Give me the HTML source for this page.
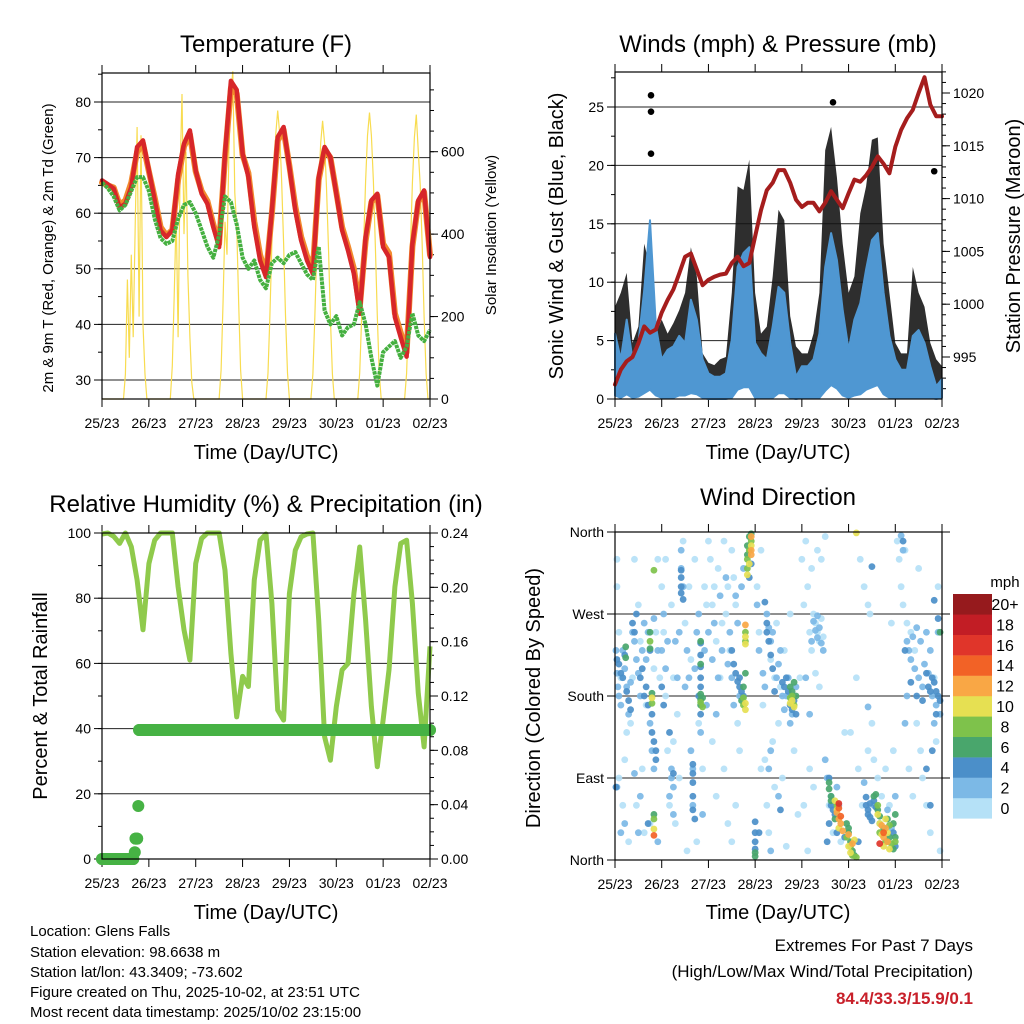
<!DOCTYPE html>
<html>
<head>
<meta charset="utf-8">
<style>
html,body{margin:0;padding:0;background:#fff;}
svg{display:block;font-family:"Liberation Sans",Arial,sans-serif;}
</style>
</head>
<body>
<svg id="chart" width="1024" height="1024" viewBox="0 0 1024 1024" xmlns="http://www.w3.org/2000/svg">
<rect x="0" y="0" width="1024" height="1024" fill="#fff"/>
<text x="266" y="52" font-size="24" text-anchor="middle">Temperature (F)</text>
<text x="778" y="52" font-size="24" text-anchor="middle">Winds (mph) &amp; Pressure (mb)</text>
<text x="266" y="512" font-size="24" text-anchor="middle">Relative Humidity (%) &amp; Precipitation (in)</text>
<text x="778" y="505" font-size="24" text-anchor="middle">Wind Direction</text>

<text x="266" y="459" font-size="20" text-anchor="middle">Time (Day/UTC)</text>
<text x="778" y="459" font-size="20" text-anchor="middle">Time (Day/UTC)</text>
<text x="266" y="919" font-size="20" text-anchor="middle">Time (Day/UTC)</text>
<text x="778" y="919" font-size="20" text-anchor="middle">Time (Day/UTC)</text>

<text transform="translate(53,248) rotate(-90)" font-size="15" text-anchor="middle">2m &amp; 9m T (Red, Orange) &amp; 2m Td (Green)</text>
<text transform="translate(496,235) rotate(-90)" font-size="15" text-anchor="middle">Solar Insolation (Yellow)</text>
<text transform="translate(563,236) rotate(-90)" font-size="20" text-anchor="middle">Sonic Wind &amp; Gust (Blue, Black)</text>
<text transform="translate(1020,236) rotate(-90)" font-size="20" text-anchor="middle">Station Pressure (Maroon)</text>
<text transform="translate(47,696) rotate(-90)" font-size="20" text-anchor="middle">Percent &amp; Total Rainfall</text>
<text transform="translate(540,698) rotate(-90)" font-size="20" text-anchor="middle">Direction (Colored By Speed)</text>

<text x="1005" y="587" font-size="15" text-anchor="middle">mph</text>

<g font-size="15">
<text x="30" y="936">Location: Glens Falls</text>
<text x="30" y="957">Station elevation: 98.6638 m</text>
<text x="30" y="977">Station lat/lon: 43.3409; -73.602</text>
<text x="30" y="997">Figure created on Thu, 2025-10-02, at 23:51 UTC</text>
<text x="30" y="1017">Most recent data timestamp: 2025/10/02 23:15:00</text>
</g>
<text x="973" y="951" font-size="17" text-anchor="end">Extremes For Past 7 Days</text>
<text x="973" y="977" font-size="17" text-anchor="end">(High/Low/Max Wind/Total Precipitation)</text>
<text x="973" y="1004" font-size="17" font-weight="bold" fill="#c8202a" text-anchor="end">84.4/33.3/15.9/0.1</text>
</svg>
<script>
// ---------- data ----------
const dayLabels = ['25/23','26/23','27/23','28/23','29/23','30/23','01/23','02/23'];
// 3-hourly series, hour 0..168
const tempRed = [65.9,65.2,64.4,61,61.7,64.7,71.9,73.1,67.7,62.3,56.9,55.7,56.9,67,72.5,74.9,67.7,63.5,61.7,57.5,53.9,70.7,83.8,82.2,70.7,66.5,57.5,51.5,48.5,60.5,73.7,75.5,68.3,60.5,55.1,51.5,49.1,66.5,71.9,70.1,63.5,56.9,53.3,49.1,41.9,55.7,62.3,63.5,53.9,52.1,41.3,37.7,34.2,54.5,62.3,64.1,52.1];
const tempOrange = [65.5,65,64.6,61.5,62.3,65.5,71,72.5,67.5,62.8,57.5,56,57,66,72,74.2,67.5,64,62.2,58,54.5,70,82.5,81.5,70.5,67.2,58.5,52.5,49,60,73,75,68.5,61.2,55.8,52.3,50,66,71.5,70,63.8,57.5,54,50,43,55,62,63.2,54.5,52.8,42,38.5,35,54,62,63.8,52.5];
const dewGreen = [65.5,64.5,63,60.5,61.5,64,66.5,66.5,64,59,55.5,54.5,55,59,61.5,62,60,57,54,52,56,63,62,58,52,50,51.5,48,46.5,51,52,51,52.5,53,51,49,48,54,42.5,40,41.5,38,39.5,40,44,40,34,29,35,36,37,34,36,42,38,37,39];
// hourly solar insolation, hour 0..168
const solar = [0,0,0,0,0,0,0,0,0,0,0,0,
 60,290,100,350,150,420,660,200,640,180,60,0,
 0,0,0,0,0,0,0,0,0,0,0,0,
 80,250,450,150,550,740,400,600,300,150,40,0,
 0,0,0,0,0,0,0,0,0,0,0,0,0,
 70,230,430,350,600,740,795,500,420,230,70,0,
 0,0,0,0,0,0,0,0,0,0,0,0,
 63,203,378,532,644,700,644,532,378,203,63,0,
 0,0,0,0,0,0,0,0,0,0,0,
 61,196,365,513,621,675,621,513,365,196,61,0,
 0,0,0,0,0,0,0,0,0,0,0,0,
 63,202,375,528,639,695,639,528,375,202,63,0,
 0,0,0,0,0,0,0,0,0,0,0,0,
 62,200,373,524,635,690,600,520,373,200,62,0,0];
const windHigh = [5.6,3.4,6.8,3.4,4.8,9.3,15.3,6.2,3.4,4.2,4.5,5.4,4.8,8.5,6.8,3.4,2.2,1.9,1.9,2.2,5.1,11.3,12.5,13,4.8,3.9,3.4,6.2,9.6,9.1,4.8,1.9,2.8,2.8,3.4,5.6,11.3,14.2,11.9,7.6,4.2,6.8,8.2,11.1,13.6,14.2,9.1,5.4,3.4,2.5,2.5,5.4,5.9,4.8,2.8,1.1,1.7];
const windLow = [0.3,0.1,0.4,0.1,0.2,0.5,0.8,0.3,0.1,0.1,0.1,0.3,0.3,0.5,0.4,0.1,0,0,0,0,0.1,0.8,1,1,0.1,0.1,0.1,0.1,0.5,0.5,0.1,0,0.1,0.1,0.1,0.1,0.7,1.2,0.9,0.3,0.1,0.3,0.4,0.8,1,1.2,0.4,0.1,0.1,0.1,0.1,0.1,0.1,0.1,0.1,0,0.1];
const gustHigh = [7.9,9.1,10.8,4.8,6.2,13.3,11.3,5.6,6.8,5.6,6.5,7.6,9.1,13,10.5,3.9,3.1,2.9,3.4,3.6,9.1,18.2,17.9,20.5,9.1,5.6,6.2,10.5,16.2,15.3,7.1,4.5,3.9,3.9,5.6,9.1,21.3,23.3,19,13.3,9.1,10.5,15.9,18.2,22.2,22.4,13.3,9.1,4.8,3.9,3.9,11.3,9.1,7.9,4.8,3.4,2.8];
const gustOutHours = [18.5,18.5,18.5,112,164];
const gustOutValues = [26,24.6,21,25.4,19.5];
const pressure = [992.4,993.8,994.6,995,996.3,997.9,997.3,997.6,999.2,1000.4,1001.4,1002.9,1004.5,1004.8,1003.3,1001.8,1002.3,1002.6,1002.8,1002.9,1003.9,1004.5,1003.6,1003.9,1006.4,1008.9,1010.8,1011.5,1012.7,1012.7,1011.5,1009.9,1009.2,1009.6,1009.6,1008.8,1009.6,1010.7,1009.9,1009.1,1010.5,1011.8,1011.6,1012.2,1013,1014,1013.3,1012.4,1014.9,1016.5,1017.6,1018.4,1020,1021.5,1018.9,1017.8,1017.8];
const rh = [99.7,100,99,96.8,100,95.8,85.6,70.3,90.6,97.8,100,100,100,83.5,70.3,61,90.6,98.3,100,100,100,88.6,63,43.6,56,52.9,85.6,97.8,99.7,78.4,45.7,42.6,81.4,94.7,98.8,99.7,100,73.3,37.5,30.3,46.7,58,60,81.4,95.7,73.3,46.7,28.3,42.6,58,83.5,96.8,97.8,78.4,50.8,34.4,65.2];
const rainHours = [0,2,4,6,8,10,12,14,16,16.8,17.2,18,18.6,19,40,60,80,100,120,140,160,168];
const rainValues = [0,0,0,0,0,0,0,0,0,0.005,0.015,0.015,0.039,0.095,0.095,0.095,0.095,0.095,0.095,0.095,0.095,0.095];
// wind direction observations [hour, degrees, mph]
const dirObs = [
[1,300,0],[1,330,0],[2,250,0],[3,200,0],[2,90,0],[4,60,0],[6,140,0],[8,150,0],[9,200,0],[10,330,0],[12,280,0],[13,240,0],[14,100,0],[15,30,0],[16,170,0],[18,40,0],[20,210,0],[21,250,0],[22,330,0],[23,200,0],[5,110,0],[11,60,0],[7,20,0],
[0.5,230,2],[1,205,2],[1.5,190,2],[2,180,2],[3,170,2],[4,230,2],[5,210,2],[6,190,2],[7,160,2],[8,195,2],[9,250,2],[10,240,2],[11,220,2],[12,205,2],[13,180,2],[14,230,2],[15,260,2],[16,220,2],[17,250,2],[18,150,2],[19,120,2],[20,265,2],[22,230,2],[1,80,2],[3,30,2],[5,40,2],[10,95,2],[12,30,2],[13,70,2],[20,100,2],[22,20,2],
[0.5,80,4],[1,220,4],[2,215,4],[3,205,4],[4,200,4],[5,225,4],[6,185,4],[7,175,4],[8,165,4],[9,260,4],[10,250,4],[11,270,4],[13,200,4],[14,210,4],[15,180,4],[16,190,4],[17,170,4],[18,230,4],[19,140,4],[20,130,4],[21,120,4],[21,110,4],[19,160,4],[17,40,4],
[5.5,234,6],[5.5,222,6],[18,250,6],[18,232,6],[19,183,6],[20,50,6],[18,240,8],[19,172,8],[20,318,8],[20,45,8],[19,178,10],[20,34,10],[20,27,14],
[24,300,0],[25,250,0],[26,330,0],[27,120,0],[28,60,0],[29,280,0],[30,200,0],[31,40,0],[32,160,0],[33,90,0],[35,350,0],[36,260,0],[37,10,0],[38,300,0],[39,220,0],[41,330,0],[42,20,0],[43,150,0],[45,100,0],[46,300,0],[47,280,0],[26,180,0],[30,130,0],
[24,230,2],[25,270,2],[26,210,2],[27,240,2],[28,70,2],[29,100,2],[29,90,2],[30,80,2],[30,50,2],[31,240,2],[32,200,2],[33,250,2],[34,340,2],[34,320,2],[35,300,2],[36,190,2],[37,230,2],[38,200,2],[39,120,2],[40,100,2],[40,60,2],[41,210,2],[42,250,2],[43,270,2],[44,140,2],[45,50,2],[46,230,2],[47,170,2],
[34,318,4],[34,310,4],[34,300,4],[34,293,4],[35,286,4],[40,105,4],[40,95,4],[40,85,4],[40,70,4],[40,55,4],[41,45,4],[44,238,4],[44,225,4],[44,212,4],[44,200,4],[44,190,4],[44,160,4],[43,180,4],[24,190,4],[25,170,4],[28,140,4],[30,95,4],
[44,182,6],[44,176,6],[44,170,6],[45,178,6],[44,240,6],[44,215,6],[44,173,8],[45,168,8],
[48,350,0],[49,330,0],[50,280,0],[51,300,0],[52,240,0],[53,320,0],[54,200,0],[55,260,0],[56,350,0],[57,270,0],[58,300,0],[59,230,0],[60,340,0],[61,310,0],[62,280,0],[63,150,0],[64,120,0],[56,100,0],[58,40,0],[60,20,0],[52,70,0],[50,130,0],[62,60,0],
[48,250,2],[50,220,2],[51,260,2],[53,200,2],[54,290,2],[55,230,2],[57,310,2],[58,215,2],[59,250,2],[60,200,2],[61,170,2],[62,290,2],[63,260,2],[65,300,2],[66,320,2],[64,180,2],[52,160,2],
[60,230,4],[61,215,4],[62,205,4],[63,196,4],[64,190,4],[64,200,4],[65,185,4],[66,180,4],[69,310,4],[70,325,4],[72,42,4],[72,30,4],[72,20,4],[72,12,4],
[65,175,6],[66,190,6],[67,205,6],[68,335,6],[68,345,6],[69,355,6],[70,358,6],[72,8,6],[72,4,6],
[66,170,8],[66,178,8],[67,250,8],[67,240,8],[68,320,8],[68,330,8],[69,340,8],[70,350,8],
[67,172,10],[67,165,10],[67,245,10],[67,237,10],[68,313,10],[69,325,10],[70,345,10],
[67,258,12],[70,340,12],[70,355,12],[70,335,12],
[73,300,0],[74,250,0],[75,340,0],[76,170,0],[77,110,0],[78,60,0],[79,30,0],[80,220,0],[81,130,0],[82,200,0],[83,260,0],[84,150,0],[85,190,0],[86,90,0],[87,230,0],[88,15,0],[90,270,0],[92,120,0],[94,50,0],[95,200,0],[75,100,0],[82,80,0],
[73,280,2],[74,230,2],[76,205,2],[77,190,2],[78,270,2],[79,255,2],[80,240,2],[81,250,2],[83,200,2],[84,215,2],[85,230,2],[86,180,2],[87,165,2],[88,180,2],[89,200,2],[90,150,2],[91,160,2],[93,190,2],[79,100,2],[80,120,2],[84,70,2],[80,10,2],
[77,283,4],[78,260,4],[78,250,4],[79,240,4],[80,225,4],[81,210,4],[82,185,4],[86,195,4],[87,190,4],[88,200,4],[89,185,4],[90,170,4],[91,165,4],[92,175,4],[93,160,4],[74,30,4],[85,55,4],
[90,190,6],[91,185,6],[92,195,6],[93,180,6],[90,178,8],[91,180,8],[92,170,8],[91,175,10],[92,168,10],[90,172,10],
[96,330,0],[97,280,0],[98,350,0],[99,300,0],[100,250,0],[101,230,0],[102,270,0],[103,260,0],[104,250,0],[105,240,0],[106,265,0],[107,245,0],[101,320,0],[104,340,0],[108,355,0],[106,330,0],[103,205,0],[105,190,0],[100,100,0],[102,80,0],[110,60,0],[112,30,0],[116,20,0],[118,140,0],[97,60,0],[99,10,0],
[102,262,2],[103,252,2],[104,244,2],[105,255,2],[106,238,2],[104,268,2],[107,230,2],[101,240,2],[98,200,2],[100,160,2],[108,110,2],[109,90,2],[111,70,2],[114,80,2],[115,60,2],
[110,90,4],[111,60,4],[112,55,4],[113,50,4],[114,30,4],[110,40,4],[118,25,4],[109,20,4],[125,20,4],
[110,85,6],[110,78,6],[111,70,6],[111,65,6],[113,45,6],[119,40,6],[120,30,6],[121,20,6],[122,10,6],[123,5,6],[120,35,6],
[114,60,8],[119,25,8],[121,15,8],[122,5,8],[124,3,8],
[113,65,10],[114,55,10],[115,35,10],[120,15,10],[121,8,10],[123,22,10],[124,359,10],
[114,52,12],[115,45,12],[116,40,12],[117,32,12],[120,28,12],[122,18,12],[115,57,14],[116,48,14],[115,62,16],
[121,140,0],[124,200,0],[126,330,0],[128,300,0],[130,280,0],[131,270,0],[132,150,0],[130,120,0],[133,110,0],[135,90,0],[137,70,0],[139,100,0],[141,60,0],[142,260,0],[143,120,0],[127,60,0],[125,100,0],[140,20,0],
[130,168,2],[128,85,2],[133,60,2],[136,40,2],[140,55,2],[142,35,2],[144,70,2],
[132,322,4],[129,69,4],[129,60,4],[130,55,4],[130,50,4],[131,47,4],[132,43,4],[133,65,4],[134,58,4],[131,62,4],[143,30,4],[144,15,4],
[133,70,6],[134,72,6],[135,55,6],[136,48,6],[138,35,6],[140,45,6],[141,25,6],[143,40,6],[144,50,6],[144,25,6],[143,12,6],
[135,60,8],[136,30,8],[139,20,8],[141,38,8],[142,18,8],[144,20,8],
[135,50,10],[136,40,10],[137,28,10],[138,15,10],[139,45,10],[140,30,10],[141,12,10],
[137,38,12],[138,25,12],[139,35,12],[140,20,12],[138,30,14],[136,18,16],
[145,350,0],[146,330,0],[147,300,0],[148,280,0],[149,340,0],[150,260,0],[152,250,0],[154,230,0],[155,150,0],[157,120,0],[158,90,0],[160,60,0],[162,30,0],[164,200,0],[166,300,0],[167,10,0],[151,100,0],[153,70,0],[156,320,0],[165,130,0],
[147,356,2],[148,340,2],[150,240,2],[151,230,2],[152,220,2],[153,245,2],[154,210,2],[155,255,2],[156,200,2],[157,240,2],[158,190,2],[159,215,2],[160,250,2],[161,205,2],[162,230,2],[163,180,2],[164,150,2],[165,170,2],[166,250,2],[167,160,2],[150,180,2],[149,150,2],
[148,350,4],[149,230,4],[152,195,4],[155,180,4],[158,175,4],[160,205,4],[161,190,4],[162,185,4],[163,200,4],[164,195,4],[165,185,4],[166,180,4],[167,175,4],[165,160,4],[164,285,4],[166,265,4],[160,100,4],[163,120,4],[162,60,4],
[167,250,6]
];
const speedColors = ['#b5e1f7','#7cb9e6','#4b8fc9','#49a66c','#7ec24b','#e6e052','#f9a745','#f26226','#e0352a','#c21d25','#961a1d'];
const speedLabels = ['0','2','4','6','8','10','12','14','16','18','20+'];
const dirLabels = ['North','East','South','West','North'];
const dirTickDeg = [0,90,180,270,360];

// ---------- helpers ----------
const NS = 'http://www.w3.org/2000/svg';
const svg = document.getElementById('chart');
function mk(tag, attrs, parent) {
  const e = document.createElementNS(NS, tag);
  for (const k in attrs) e.setAttribute(k, attrs[k]);
  (parent || svg).appendChild(e);
  return e;
}
function lin(d0, d1, r0, r1) { return v => r0 + (v - d0) * (r1 - r0) / (d1 - d0); }
function hours3(i) { return i * 3; }

const P1 = {x0:102, x1:430, y0:73, y1:399};
const P2 = {x0:615, x1:942, y0:72, y1:399};
const P3 = {x0:102, x1:430, y0:533, y1:859};
const P4 = {x0:615, x1:942, y0:532, y1:860};

function xAxis(p, xs, prefix) {
  for (let d = 0; d < dayLabels.length; d++) {
    const x = xs(d * 24);
    const t1 = mk('line', {x1:x, x2:x, y1:p.y0 - 8, y2:p.y0, stroke:'#000', 'stroke-width':1});
    
    
    const t2 = mk('line', {x1:x, x2:x, y1:p.y1, y2:p.y1 + 8, stroke:'#000', 'stroke-width':1});
    
    
    const lb = mk('text', {x:x, y:p.y1 + 29, 'font-size':14, 'text-anchor':'middle'});
    
    
    lb.textContent = dayLabels[d];
  }
}
function yAxis(p, side, ys, major, labels, minor, grid, prefix) {
  const xe = side === 'left' ? p.x0 : p.x1;
  const dir = side === 'left' ? -1 : 1;
  minor.forEach(v => {
    const y = ys(v);
    const m = mk('line', {x1:xe, x2:xe + dir * 4, y1:y, y2:y, stroke:'#000', 'stroke-width':1});
    
    
  });
  major.forEach((v, i) => {
    const y = ys(v);
    if (grid) {
      const g = mk('line', {x1:p.x0, x2:p.x1, y1:y, y2:y, stroke:'#222', 'stroke-width':1});
      
      
    }
    const t = mk('line', {x1:xe, x2:xe + dir * 8, y1:y, y2:y, stroke:'#000', 'stroke-width':1});
    
    
    const lb = mk('text', {x: xe + dir * 11, y: y + 5, 'font-size':14, 'text-anchor': side === 'left' ? 'end' : 'start'});
    
    
    lb.textContent = labels[i];
  });
}
function frame(p, name) {
  const r = mk('rect', {x:p.x0, y:p.y0, width:p.x1 - p.x0, height:p.y1 - p.y0, fill:'none', stroke:'#000', 'stroke-width':1.2});
  
  
}
function range(a, b, s) { const o = []; for (let v = a; v <= b + 1e-9; v += s) o.push(+v.toFixed(4)); return o; }
function polyPts(arr, xs, ys, hf) { return arr.map((v, i) => xs(hf(i)).toFixed(1) + ',' + ys(v).toFixed(1)).join(' '); }

// ---------- Panel 1: Temperature ----------
const x1s = lin(0, 168, P1.x0, P1.x1);
const yT = lin(30, 80, 380, 102);
const yS = lin(0, 600, 399, 151.7);
yAxis(P1, 'left', yT, [30,40,50,60,70,80], ['30','40','50','60','70','80'], range(30, 85, 5), true, 'temp-y');
yAxis(P1, 'right', yS, [0,200,400,600], ['0','200','400','600'], range(0, 750, 50), false, 'solar-y');
xAxis(P1, x1s, 'temp');
const solarLine = mk('polyline', {points: polyPts(solar, x1s, yS, i => i), fill:'none', stroke:'#f8dc50', 'stroke-width':1.2});


const orangeLine = mk('polyline', {points: polyPts(tempOrange, x1s, yT, hours3), fill:'none', stroke:'#f28a2e', 'stroke-width':6, 'stroke-linejoin':'round', 'stroke-linecap':'round'});


const redLine = mk('polyline', {points: polyPts(tempRed, x1s, yT, hours3), fill:'none', stroke:'#d7262a', 'stroke-width':4.5, 'stroke-linejoin':'round', 'stroke-linecap':'round'});


const greenLine = mk('polyline', {points: polyPts(dewGreen, x1s, yT, hours3), fill:'none', stroke:'#45b040', 'stroke-width':4, 'stroke-dasharray':'3.5 0.8', 'stroke-linejoin':'round'});


frame(P1, 'temperature-plot-frame');

// ---------- Panel 2: Winds ----------
const x2s = lin(0, 168, P2.x0, P2.x1);
const yW = lin(0, 25, 399, 107);
const yP = lin(995, 1020, 357, 93);
yAxis(P2, 'left', yW, [0,5,10,15,20,25], ['0','5','10','15','20','25'], range(0, 27.5, 2.5), true, 'wind-y');
yAxis(P2, 'right', yP, [995,1000,1005,1010,1015,1020], ['995','1000','1005','1010','1015','1020'], range(992, 1022, 1), false, 'pressure-y');
xAxis(P2, x2s, 'wind');
{
  const up = gustHigh.map((v, i) => x2s(hours3(i)).toFixed(1) + ',' + yW(v).toFixed(1));
  const dn = windLow.map((v, i) => x2s(hours3(i)).toFixed(1) + ',' + yW(v).toFixed(1)).reverse();
  const gb = mk('polygon', {points: up.concat(dn).join(' '), fill:'#111', 'fill-opacity':0.88, stroke:'none'});
  
  
}
gustOutHours.forEach((h, i) => {
  const c = mk('circle', {cx: x2s(h), cy: yW(gustOutValues[i]), r:3.3, fill:'#000'});
  
  
});
{
  const up = windHigh.map((v, i) => x2s(hours3(i)).toFixed(1) + ',' + yW(v).toFixed(1));
  const dn = windLow.map((v, i) => x2s(hours3(i)).toFixed(1) + ',' + yW(v).toFixed(1)).reverse();
  const wb = mk('polygon', {points: up.concat(dn).join(' '), fill:'#4f97d2', stroke:'#4f97d2', 'stroke-width':2, 'stroke-linejoin':'round'});
  
  
}
const pLine = mk('polyline', {points: polyPts(pressure, x2s, yP, hours3), fill:'none', stroke:'#a51d1d', 'stroke-width':4, 'stroke-linejoin':'round', 'stroke-linecap':'round'});


frame(P2, 'wind-plot-frame');

// ---------- Panel 3: RH & precip ----------
const x3s = lin(0, 168, P3.x0, P3.x1);
const yR = lin(0, 100, 859, 533);
const yRain = lin(0, 0.24, 859, 533);
yAxis(P3, 'left', yR, [0,20,40,60,80,100], ['0','20','40','60','80','100'], range(0, 100, 10), true, 'rh-y');
yAxis(P3, 'right', yRain, [0,0.04,0.08,0.12,0.16,0.2,0.24], ['0.00','0.04','0.08','0.12','0.16','0.20','0.24'], range(0, 0.24, 0.01), false, 'rain-y');
xAxis(P3, x3s, 'rh');
const rhLine = mk('polyline', {points: polyPts(rh, x3s, yR, hours3), fill:'none', stroke:'#8fca4c', 'stroke-width':5, 'stroke-linejoin':'round'});


for (let i = 0; i < rainHours.length; i++) {
  if (i > 0 && rainValues[i] === rainValues[i - 1]) {
    const s = mk('line', {x1:x3s(rainHours[i - 1]), x2:x3s(rainHours[i]), y1:yRain(rainValues[i]), y2:yRain(rainValues[i]), stroke:'#46b244', 'stroke-width':12, 'stroke-linecap':'round'});
    
    
  }
  const c = mk('circle', {cx:x3s(rainHours[i]), cy:yRain(rainValues[i]), r:6, fill:'#46b244'});
  
  
}
frame(P3, 'rh-plot-frame');

// ---------- Panel 4: Wind direction ----------
const x4s = lin(0, 168, P4.x0, P4.x1);
const yD = lin(0, 360, 860, 532);
yAxis(P4, 'left', yD, dirTickDeg, dirLabels, [], true, 'dir-y');
xAxis(P4, x4s, 'dir');
const sorted = dirObs.slice().sort((a, b) => a[2] - b[2]);
sorted.forEach(o => {
  const bin = Math.min(10, Math.round(o[2] / 2));
  const c = mk('circle', {cx:x4s(o[0]), cy:yD(o[1]), r:3.4, fill:speedColors[bin], 'fill-opacity':0.92});
  
  
});
frame(P4, 'direction-plot-frame');
dirTickDeg.forEach(d => {
  const t = mk('line', {x1:P4.x1, x2:P4.x1 + 8, y1:yD(d), y2:yD(d), stroke:'#000'});
  
  
});

// ---------- Colorbar ----------
for (let i = 0; i < speedColors.length; i++) {
  const y = 594 + (10 - i) * 20.4;
  const r = mk('rect', {x:953, y:y, width:39, height:20.6, fill:speedColors[i]});
  
  
  const t = mk('text', {x:1005, y:y + 16, 'font-size':16, 'text-anchor':'middle'});
  
  
  t.textContent = speedLabels[i];
}
</script>
</body>
</html>
